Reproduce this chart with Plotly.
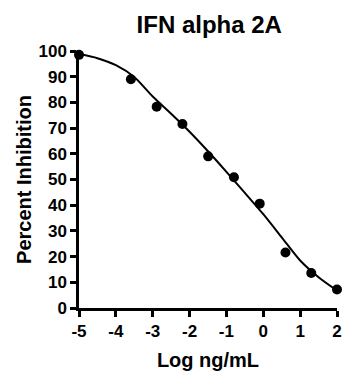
import plotly.graph_objects as go

# Measured data points (log10 ng/mL, percent inhibition)
log_conc = [-5.0, -3.592, -2.893, -2.194, -1.495, -0.796, -0.097, 0.602, 1.301, 2.0]
inhibition = [98.5, 89.0, 78.3, 71.6, 59.0, 50.9, 40.6, 21.6, 13.6, 7.2]

# Fitted curve
curve_x = [-5.0, -4.5, -4.0, -3.5, -3.0, -2.5, -2.0, -1.5, -1.0, -0.5, 0.0, 0.5, 1.0, 1.5, 2.0]
curve_y = [98.8, 97.2, 94.5, 89.9, 82.3, 75.6, 68.6, 61.0, 53.0, 44.8, 36.5, 27.5, 18.5, 12.0, 6.8]

title_text = "IFN alpha 2A"
x_title = "Log ng/mL"
y_title = "Percent Inhibition"
x_ticks = [-5, -4, -3, -2, -1, 0, 1, 2]
y_ticks = [0, 10, 20, 30, 40, 50, 60, 70, 80, 90, 100]

font_family = "Liberation Sans, Arial, sans-serif"

fig = go.Figure()
fig.add_trace(go.Scatter(x=curve_x, y=curve_y, mode="lines",
                         line=dict(color="black", width=2, shape="spline", smoothing=0.7),
                         cliponaxis=False, hoverinfo="skip"))
fig.add_trace(go.Scatter(x=log_conc, y=inhibition, mode="markers",
                         marker=dict(color="black", size=10),
                         cliponaxis=False))

axis_common = dict(showgrid=False, zeroline=False, showline=True, linecolor="black",
                   linewidth=2.5, ticks="outside", ticklen=6, tickwidth=2.5,
                   tickcolor="black", automargin=False,
                   tickfont=dict(family=font_family, size=17, color="black"))

fig.update_xaxes(range=[-5, 2], tickvals=x_ticks, ticktext=["<b>%d</b>" % v for v in x_ticks],
                 title=dict(text="<b>%s</b>" % x_title, font=dict(family=font_family, size=20, color="black"),
                            standoff=14),
                 **axis_common)
fig.update_yaxes(range=[0, 100], tickvals=y_ticks, ticktext=["<b>%d</b>" % v for v in y_ticks],
                 title=dict(text="<b>%s</b>" % y_title, font=dict(family=font_family, size=20, color="black"),
                            standoff=2),
                 **axis_common)

fig.update_layout(
    width=343, height=371,
    margin=dict(l=79, r=6, t=51, b=63, autoexpand=False),
    paper_bgcolor="white", plot_bgcolor="white",
    showlegend=False,
    title=dict(text="<b>%s</b>" % title_text, x=0.61, xanchor="center", y=0.933, yanchor="middle",
               font=dict(family=font_family, size=24, color="black")),
)

fig.write_html("out.html", config={"displayModeBar": False},
               post_script="document.body.style.margin='0';document.body.style.overflow='hidden';")
